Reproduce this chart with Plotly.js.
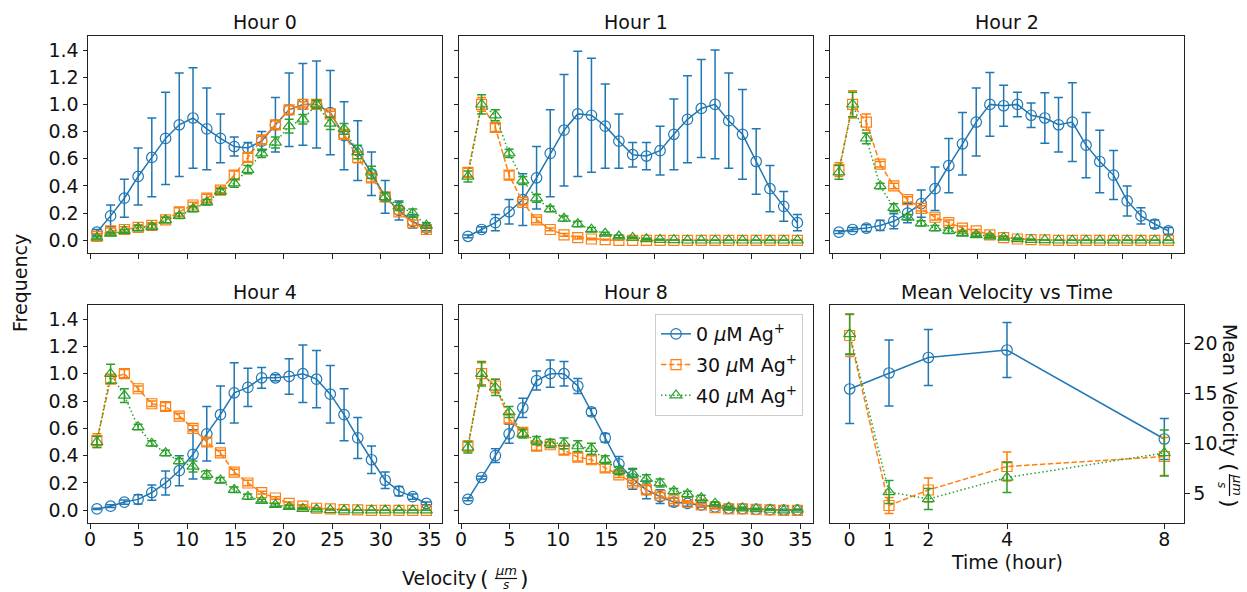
<!DOCTYPE html>
<html>
<head>
<meta charset="utf-8">
<script src="https://cdn.plot.ly/plotly-3.0.1.min.js"></script>
<style>html,body{margin:0;padding:0;background:#fff;}#chart{width:1247px;height:592px;}</style>
</head>
<body>
<div id="chart"></div>
<script>
// ---------- DATA ----------
const velocityBins = [0.71,2.12,3.54,4.96,6.37,7.79,9.20,10.62,12.04,13.45,14.87,16.28,17.70,19.12,20.53,21.95,23.36,24.78,26.20,27.61,29.03,30.44,31.86,33.28,34.69];
const seriesNames = ['0 <i>μ</i>M Ag<sup>+</sup>', '30 <i>μ</i>M Ag<sup>+</sup>', '40 <i>μ</i>M Ag<sup>+</sup>'];
const panelTitles = ['Hour 0', 'Hour 1', 'Hour 2', 'Hour 4', 'Hour 8', 'Mean Velocity vs Time'];

// Hour 0
const h0_0uM   = [0.06,0.18,0.31,0.47,0.61,0.75,0.85,0.90,0.82,0.75,0.69,0.68,0.73,0.85,0.96,1.00,1.00,0.94,0.77,0.66,0.49,0.32,0.22,0.14,0.09];
const h0_0uMe  = [0.02,0.08,0.14,0.21,0.29,0.34,0.38,0.37,0.30,0.18,0.07,0.04,0.07,0.20,0.27,0.30,0.32,0.31,0.25,0.22,0.16,0.12,0.07,0.05,0.02];
const h0_30uM  = [0.03,0.07,0.08,0.095,0.11,0.15,0.21,0.26,0.31,0.37,0.48,0.61,0.74,0.85,0.96,1.00,1.00,0.93,0.78,0.61,0.46,0.32,0.21,0.13,0.08];
const h0_30uMe = [0.02,0.02,0.02,0.02,0.02,0.02,0.03,0.02,0.03,0.02,0.03,0.03,0.03,0.03,0.03,0.02,0.02,0.02,0.03,0.04,0.03,0.03,0.02,0.02,0.02];
const h0_40uM  = [0.02,0.05,0.07,0.09,0.10,0.15,0.18,0.23,0.28,0.36,0.42,0.52,0.64,0.72,0.84,0.89,1.00,0.86,0.82,0.65,0.50,0.32,0.25,0.20,0.11];
const h0_40uMe = [0.01,0.01,0.01,0.02,0.02,0.02,0.02,0.02,0.02,0.02,0.03,0.03,0.03,0.04,0.05,0.035,0.03,0.045,0.04,0.05,0.045,0.03,0.03,0.03,0.02];

// Hour 1
const h1_0uM   = [0.03,0.08,0.13,0.21,0.30,0.46,0.64,0.81,0.93,0.92,0.84,0.73,0.63,0.62,0.66,0.78,0.89,0.97,1.00,0.88,0.78,0.58,0.38,0.25,0.13];
const h1_0uMe  = [0.01,0.02,0.06,0.09,0.19,0.23,0.32,0.41,0.46,0.42,0.31,0.20,0.09,0.10,0.18,0.26,0.32,0.36,0.40,0.35,0.33,0.24,0.17,0.11,0.06];
const h1_30uM  = [0.50,1.00,0.83,0.48,0.28,0.15,0.08,0.04,0.02,0.01,0.005,0,0,0,0,0,0,0,0,0,0,0,0,0,0];
const h1_30uMe = [0.03,0.05,0.03,0.03,0.02,0.02,0.01,0.01,0.01,0.005,0.003,0,0,0,0,0,0,0,0,0,0,0,0,0,0];
const h1_40uM  = [0.47,1.00,0.92,0.64,0.44,0.31,0.23,0.16,0.12,0.08,0.05,0.03,0.02,0.01,0.005,0.003,0,0,0,0,0,0,0,0,0];
const h1_40uMe = [0.04,0.07,0.04,0.03,0.03,0.03,0.02,0.02,0.02,0.015,0.01,0.01,0.005,0.005,0.003,0,0,0,0,0,0,0,0,0,0];

// Hour 2
const h2_0uM   = [0.06,0.08,0.09,0.11,0.14,0.20,0.27,0.38,0.55,0.71,0.87,1.00,0.99,1.00,0.92,0.90,0.85,0.87,0.70,0.58,0.48,0.29,0.18,0.12,0.07];
const h2_0uMe  = [0.01,0.015,0.025,0.037,0.055,0.07,0.10,0.16,0.20,0.23,0.25,0.235,0.15,0.09,0.09,0.185,0.20,0.29,0.24,0.23,0.18,0.11,0.06,0.03,0.025];
const h2_30uM  = [0.52,1.00,0.87,0.56,0.40,0.30,0.235,0.17,0.13,0.09,0.07,0.04,0.02,0.01,0.005,0.003,0,0,0,0,0,0,0,0,0];
const h2_30uMe = [0.05,0.10,0.06,0.02,0.02,0.02,0.02,0.02,0.02,0.015,0.01,0.01,0.01,0.005,0.003,0,0,0,0,0,0,0,0,0,0];
const h2_40uM  = [0.50,1.00,0.75,0.40,0.24,0.17,0.125,0.09,0.07,0.05,0.04,0.03,0.02,0.01,0.005,0.003,0,0,0,0,0,0,0,0,0];
const h2_40uMe = [0.05,0.09,0.04,0.02,0.03,0.02,0.02,0.02,0.02,0.015,0.01,0.01,0.01,0.005,0.003,0,0,0,0,0,0,0,0,0,0];

// Hour 4
const h4_0uM   = [0.01,0.03,0.06,0.08,0.13,0.20,0.29,0.41,0.56,0.70,0.86,0.90,0.97,0.97,0.98,1.00,0.96,0.85,0.70,0.53,0.37,0.22,0.14,0.10,0.05];
const h4_0uMe  = [0.005,0.01,0.015,0.034,0.056,0.088,0.11,0.18,0.20,0.21,0.22,0.14,0.076,0.022,0.13,0.21,0.21,0.21,0.19,0.15,0.10,0.06,0.034,0.02,0.01];
const h4_30uM  = [0.51,0.96,1.00,0.89,0.78,0.76,0.69,0.60,0.50,0.42,0.28,0.20,0.13,0.09,0.05,0.03,0.015,0.01,0.005,0.003,0,0,0,0,0];
const h4_30uMe = [0.05,0.03,0.03,0.02,0.02,0.03,0.02,0.02,0.03,0.02,0.02,0.02,0.01,0.01,0.01,0.01,0.005,0.003,0,0,0,0,0,0,0];
const h4_40uM  = [0.50,1.00,0.84,0.61,0.49,0.42,0.36,0.32,0.26,0.22,0.15,0.10,0.07,0.04,0.025,0.012,0.007,0.003,0,0,0,0,0,0,0];
const h4_40uMe = [0.04,0.07,0.05,0.02,0.02,0.02,0.02,0.04,0.03,0.02,0.02,0.02,0.01,0.01,0.01,0.005,0.003,0,0,0,0,0,0,0,0];

// Hour 8
const h8_0uM   = [0.08,0.24,0.40,0.56,0.75,0.95,1.00,1.00,0.91,0.72,0.53,0.34,0.23,0.15,0.10,0.06,0.05,0.04,0.025,0.015,0.012,0.007,0.005,0.002,0.002];
const h8_0uMe  = [0.01,0.01,0.05,0.07,0.07,0.07,0.10,0.09,0.055,0.027,0.032,0.053,0.076,0.065,0.05,0.028,0.02,0.015,0.01,0.01,0.01,0.005,0.005,0.005,0.005];
const h8_30uM  = [0.47,1.00,0.91,0.67,0.57,0.47,0.48,0.44,0.39,0.37,0.31,0.26,0.20,0.15,0.11,0.07,0.06,0.04,0.02,0.01,0.01,0.007,0.003,0,0];
const h8_30uMe = [0.04,0.08,0.05,0.03,0.03,0.03,0.02,0.03,0.03,0.03,0.03,0.02,0.02,0.03,0.02,0.02,0.01,0.01,0.01,0.005,0.005,0.003,0,0,0];
const h8_40uM  = [0.46,1.00,0.90,0.72,0.56,0.51,0.49,0.49,0.47,0.45,0.37,0.29,0.27,0.23,0.20,0.14,0.12,0.09,0.05,0.02,0.015,0.01,0.005,0,0.005];
const h8_40uMe = [0.04,0.09,0.06,0.04,0.03,0.03,0.03,0.04,0.04,0.04,0.03,0.03,0.03,0.03,0.03,0.02,0.02,0.02,0.01,0.01,0.005,0.005,0.003,0,0.003];

// Mean velocity vs time
const hours      = [0,1,2,4,8];
const mean_0uM   = [15.4,17.0,18.55,19.3,10.4];
const mean_0uMe  = [3.45,3.3,2.8,2.75,2.05];
const mean_30uM  = [20.75,3.75,5.3,7.65,8.65];
const mean_30uMe = [2.1,0.8,1.2,1.45,1.9];
const mean_40uM  = [20.9,5.1,4.4,6.55,9.0];
const mean_40uMe = [2.0,1.15,1.05,1.5,2.3];

// ---------- STYLE ----------
const FONT = 'DejaVu Sans, Liberation Sans, sans-serif';
const FS = 19;
const styles = [
  {color:'#1f77b4', dash:'solid',        symbol:'circle-open',      size:10.5},
  {color:'#ff7f0e', dash:'5.5px,2.4px',  symbol:'square-open',      size:10},
  {color:'#2ca02c', dash:'1.5px,2.5px',  symbol:'triangle-up-open', size:10.5}
];

function mk(x, y, e, si, ax, legend) {
  const s = styles[si];
  return {
    type:'scatter', mode:'lines+markers', x:x, y:y,
    xaxis:'x'+(ax===1?'':ax), yaxis:'y'+(ax===1?'':ax),
    name: seriesNames[si], showlegend: legend, legendgroup:'g'+si,
    line:{color:s.color, width:1.5, dash:s.dash},
    marker:{symbol:s.symbol, size:s.size, color:s.color, line:{color:s.color, width:1.2}},
    error_y:{type:'data', array:e, visible:true, color:s.color, thickness:1.5, width:4.5},
    cliponaxis:false
  };
}

const panels = [
  [h0_0uM,h0_0uMe,h0_30uM,h0_30uMe,h0_40uM,h0_40uMe],
  [h1_0uM,h1_0uMe,h1_30uM,h1_30uMe,h1_40uM,h1_40uMe],
  [h2_0uM,h2_0uMe,h2_30uM,h2_30uMe,h2_40uM,h2_40uMe],
  [h4_0uM,h4_0uMe,h4_30uM,h4_30uMe,h4_40uM,h4_40uMe],
  [h8_0uM,h8_0uMe,h8_30uM,h8_30uMe,h8_40uM,h8_40uMe]
];

const traces = [];
panels.forEach((p, i) => {
  const ax = i + 1;
  for (let k = 0; k < 3; k++) {
    traces.push(mk(velocityBins, p[2*k], p[2*k+1], k, ax, ax === 5));
  }
});
traces.push(mk(hours, mean_0uM,  mean_0uMe,  0, 6, false));
traces.push(mk(hours, mean_30uM, mean_30uMe, 1, 6, false));
traces.push(mk(hours, mean_40uM, mean_40uMe, 2, 6, false));

// ---------- LAYOUT ----------
const W = 1247, H = 592;
const px = v => v / W;
const py = v => 1 - v / H;
const cols = [[px(88), px(442)], [px(459), px(813)], [px(830), px(1184)]];
const rows = [[py(253), py(36)], [py(523), py(305)]];

const axBase = {
  showline:true, mirror:true, linecolor:'#222', linewidth:1,
  ticks:'outside', ticklen:4.5, tickwidth:1, tickcolor:'#222',
  showgrid:false, zeroline:false,
  tickfont:{family:FONT, size:FS, color:'#111'}
};
const histX = {range:[-0.21, 36.3], tickvals:[0,5,10,15,20,25,30,35], ticklabelstandoff:-5};
const histY = {range:[-0.093, 1.503], tickvals:[0,0.2,0.4,0.6,0.8,1.0,1.2,1.4], tickformat:'.1f'};

const layout = {
  width:W, height:H, margin:{l:0,r:0,t:0,b:0},
  paper_bgcolor:'#fff', plot_bgcolor:'#fff',
  font:{family:FONT, size:FS, color:'#111'},
  showlegend:true,
  legend:{x:px(803), xanchor:'right', y:py(314), yanchor:'top',
          bgcolor:'rgba(255,255,255,0.85)', bordercolor:'#cccccc', borderwidth:1,
          font:{family:FONT, size:FS, color:'#111'}, tracegroupgap:3},
  annotations:[], shapes:[]
};

const grid = [[0,0],[1,0],[2,0],[0,1],[1,1]];
grid.forEach((g, i) => {
  const n = i + 1, sfx = n === 1 ? '' : n;
  layout['xaxis'+sfx] = Object.assign({}, axBase, histX,
    {domain:cols[g[0]], anchor:'y'+sfx, showticklabels: g[1] === 1});
  layout['yaxis'+sfx] = Object.assign({}, axBase, histY,
    {domain:rows[g[1]], anchor:'x'+sfx, showticklabels: g[0] === 0});
});
layout.xaxis6 = Object.assign({}, axBase, {domain:cols[2], anchor:'y6', range:[-0.5,8.5], tickvals:[0,1,2,4,8], ticklabelstandoff:-5});
layout.yaxis6 = Object.assign({}, axBase, {domain:rows[1], anchor:'x6', side:'right', range:[2.0,23.8], tickvals:[5,10,15,20]});

// titles
const titlePos = [[265,22],[636,22],[1007,22],[265,292],[636,292],[1007,292]];
panelTitles.forEach((t, i) => {
  layout.annotations.push({text:t, x:px(titlePos[i][0]), y:py(titlePos[i][1]), xref:'paper', yref:'paper',
    xanchor:'center', yanchor:'middle', showarrow:false, font:{family:FONT, size:FS, color:'#111'}});
});

const ann = (text, x, y, size, extra) => Object.assign({text, x:px(x), y:py(y), xref:'paper', yref:'paper',
  xanchor:'center', yanchor:'middle', showarrow:false, font:{family:FONT, size:size, color:'#111'}}, extra||{});

// Frequency label
layout.annotations.push(ann('Frequency', 20, 283, FS, {textangle:-90}));
// Velocity (um/s) label
layout.annotations.push(ann('Velocity', 439, 578, FS));
layout.annotations.push(ann('(', 484, 578, 22));
layout.annotations.push(ann(')', 524, 578, 22));
layout.annotations.push(ann('<i>μm</i>', 506, 570, 13));
layout.annotations.push(ann('<i>s</i>', 506, 585, 12));
layout.shapes.push({type:'line', xref:'paper', yref:'paper', x0:px(495), x1:px(517), y0:py(578.5), y1:py(578.5), line:{color:'#111', width:1.2}});
// Time (hour)
layout.annotations.push(ann('Time (hour)', 1007, 562, FS));
// Mean Velocity (um/s) rotated
layout.annotations.push(ann('Mean Velocity', 1230, 390, FS, {textangle:90}));
layout.annotations.push(ann('(', 1230, 467, 22, {textangle:90}));
layout.annotations.push(ann(')', 1230, 503, 22, {textangle:90}));
layout.annotations.push(ann('<i>μm</i>', 1238, 485, 13, {textangle:90}));
layout.annotations.push(ann('<i>s</i>', 1222, 485, 12, {textangle:90}));
layout.shapes.push({type:'line', xref:'paper', yref:'paper', x0:px(1229.5), x1:px(1229.5), y0:py(474), y1:py(496), line:{color:'#111', width:1.2}});

Plotly.newPlot('chart', traces, layout, {staticPlot:true, displayModeBar:false});
</script>
</body>
</html>
